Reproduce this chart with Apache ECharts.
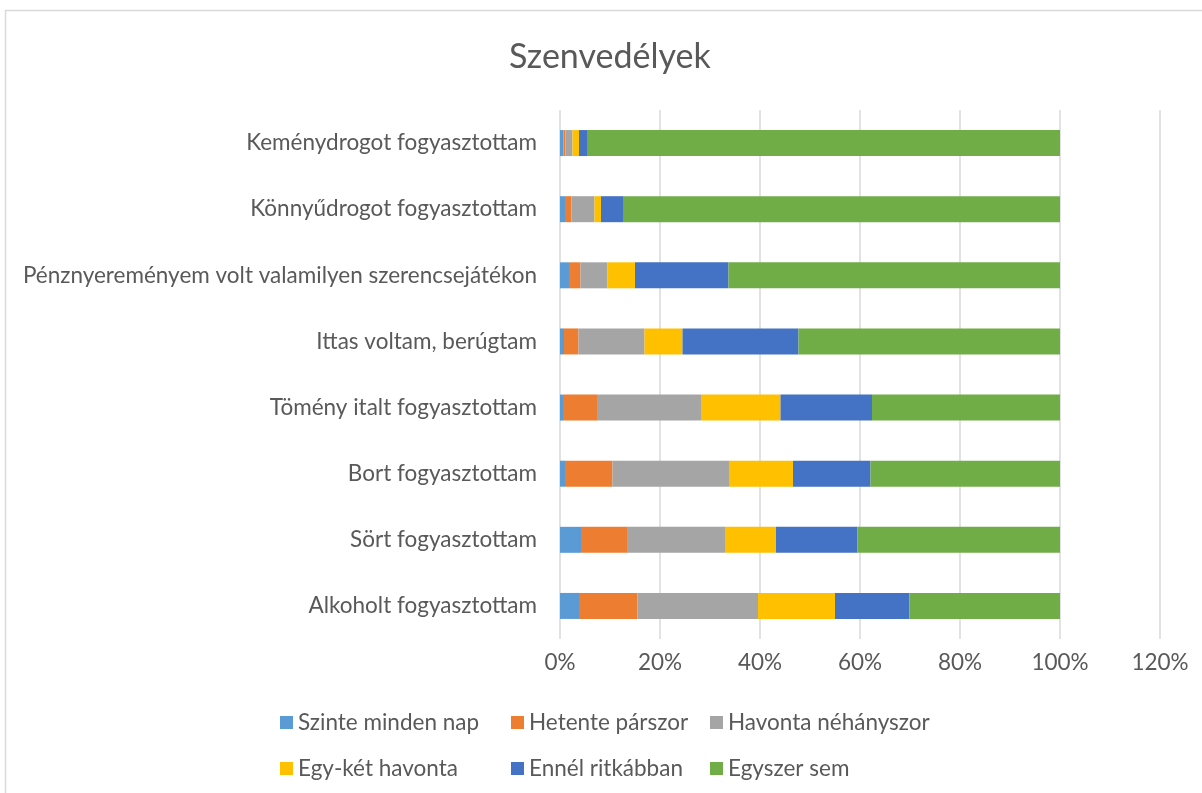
<!DOCTYPE html>
<html>
<head>
<meta charset="utf-8">
<script src="https://cdn.jsdelivr.net/npm/echarts@6/dist/echarts.min.js"></script>
<style>
html,body{margin:0;padding:0;background:#fff;}
#chart{width:1202px;height:793px;}
</style>
</head>
<body>
<div id="chart"></div>
<script>
// Categories, bottom to top
var categories = [
  'Alkoholt fogyasztottam',
  'Sört fogyasztottam',
  'Bort fogyasztottam',
  'Tömény italt fogyasztottam',
  'Ittas voltam, berúgtam',
  'Pénznyereményem volt valamilyen szerencsejátékon',
  'Könnyűdrogot fogyasztottam',
  'Keménydrogot fogyasztottam'
];
var seriesNames = ['Szinte minden nap','Hetente párszor','Havonta néhányszor','Egy-két havonta','Ennél ritkábban','Egyszer sem'];
var szinteMindenNap   = [3.8, 4.2, 1.0, 0.6, 0.8, 1.8, 1.0, 0.7];
var hetenteParszor    = [11.7, 9.2, 9.5, 6.8, 2.9, 2.3, 1.3, 0.4];
var havontaNehanyszor = [24.1, 19.6, 23.3, 20.8, 13.2, 5.4, 4.6, 1.4];
var egyKetHavonta     = [15.4, 10.2, 12.8, 15.9, 7.6, 5.5, 1.3, 1.3];
var ennelRitkabban    = [14.9, 16.3, 15.5, 18.3, 23.2, 18.7, 4.4, 1.6];
var egyszerSem        = [30.1, 40.5, 37.9, 37.6, 52.3, 66.3, 87.4, 94.6];
var xTicks = [0, 20, 40, 60, 80, 100, 120];

var seriesData = [szinteMindenNap, hetenteParszor, havontaNehanyszor, egyKetHavonta, ennelRitkabban, egyszerSem];
var colors = ['#5B9BD5','#ED7D31','#A5A5A5','#FFC000','#4472C4','#70AD47'];
var FONT = 'Lato';
var TXT = '#595959';
var FS = 22.5;

var chart = echarts.init(document.getElementById('chart'), null, {renderer:'canvas'});

var legendPos = [
  {left:280, top:711}, {left:511, top:711}, {left:710, top:711},
  {left:280, top:757}, {left:511, top:757}, {left:710, top:757}
];
var legends = seriesNames.map(function(n,i){
  return {
    data:[n], left:legendPos[i].left, top:legendPos[i].top,
    itemWidth:13, itemHeight:13, itemGap:0,
    icon:'rect',
    textStyle:{fontFamily:FONT, fontSize:FS, color:TXT, padding:[0,0,0,0]},
    selectedMode:false, padding:0
  };
});

var option = {
  animation:false,
  color: colors,
  textStyle:{fontFamily:FONT},
  title:{
    text:'Szenvedélyek', left:509, top:40, padding:0,
    textStyle:{fontFamily:FONT, fontSize:34, fontWeight:'normal', color:TXT}
  },
  graphic:[{
    type:'rect', silent:true, z:-1,
    shape:{x:5.5, y:10.5, width:1300, height:900},
    style:{fill:'none', stroke:'#D9D9D9', lineWidth:1.5}
  }],
  legend: legends,
  grid:{left:560, right:42, top:110, bottom:154, containLabel:false},
  xAxis:{
    type:'value', min:xTicks[0], max:xTicks[xTicks.length-1], interval:20,
    axisLine:{show:false}, axisTick:{show:false},
    splitLine:{show:true, lineStyle:{color:'#D9D9D9', width:1.5}},
    axisLabel:{formatter:function(v){return v+'%';}, fontFamily:FONT, fontSize:FS, color:TXT, margin:12}
  },
  yAxis:{
    type:'category', data:categories,
    axisLine:{show:false}, axisTick:{show:false},
    axisLabel:{fontFamily:FONT, fontSize:FS, color:TXT, margin:23}
  },
  series: seriesNames.map(function(n,i){
    return {
      name:n, type:'bar', stack:'total', barWidth:26,
      data:seriesData[i],
      itemStyle:{color:colors[i]}
    };
  })
};
chart.setOption(option);
</script>
</body>
</html>
